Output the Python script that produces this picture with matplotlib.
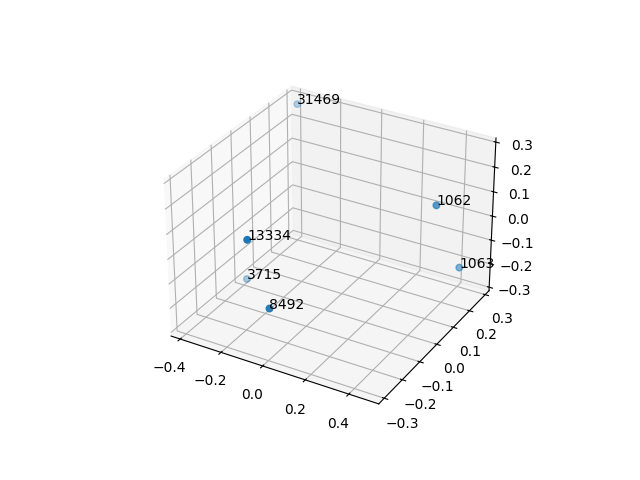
import matplotlib
matplotlib.use("Agg")
import matplotlib.pyplot as plt
import numpy as np

labels = ["31469", "1062", "13334", "1063", "3715", "8492"]
x = np.array([-0.385, 0.399, -0.12, 0.48, -0.355, 0.0])
y = np.array([0.29, 0.154, -0.267, 0.20, -0.03, -0.29])
z = np.array([0.274, 0.118, 0.12, -0.147, -0.257, -0.108])

fig = plt.figure()
ax = fig.add_subplot(projection='3d')
ax.scatter(x, y, z, s=22)
for i in range(len(labels)):
    ax.text(x[i], y[i], z[i], labels[i])
ax.set_xlim(-0.445, 0.535)
ax.set_ylim(-0.33, 0.325)
ax.set_zlim(-0.315, 0.316)
plt.savefig("out.png")
